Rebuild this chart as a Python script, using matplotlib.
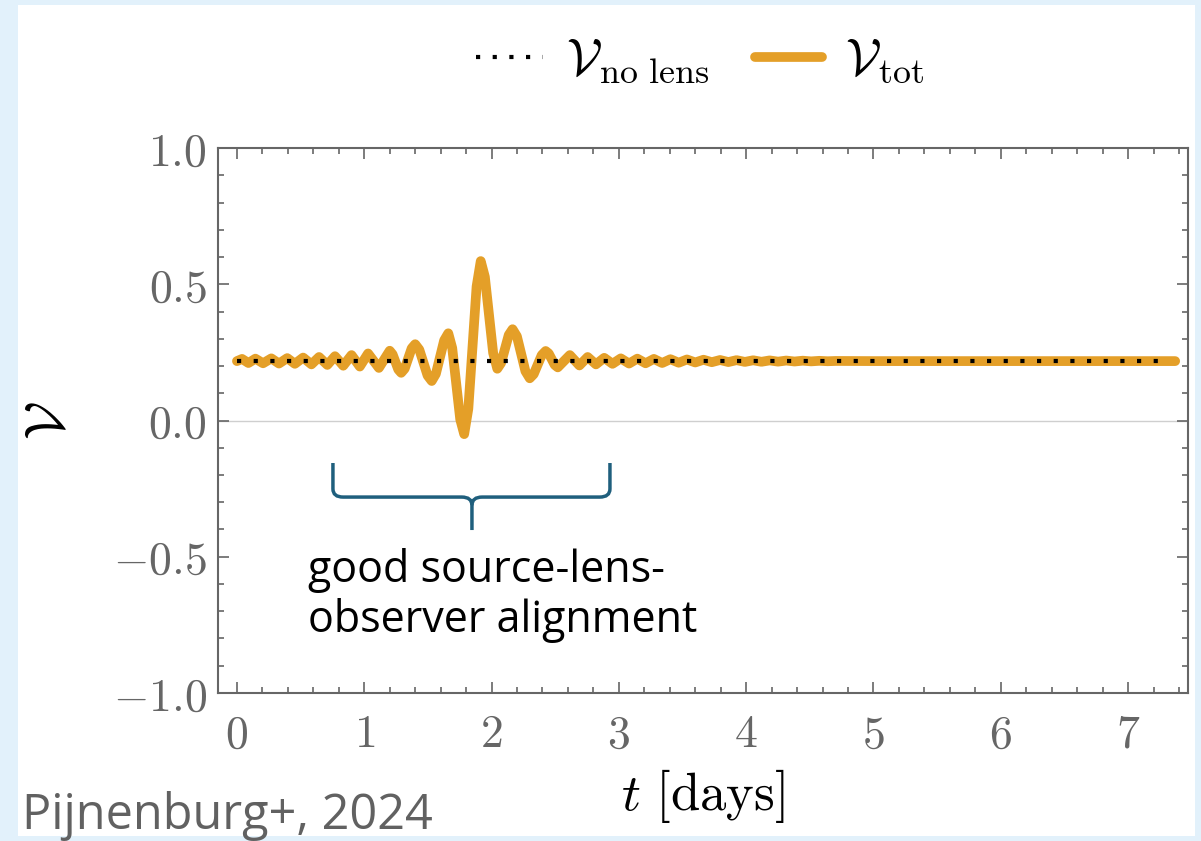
import matplotlib
matplotlib.use("Agg")
import matplotlib.pyplot as plt
from matplotlib.ticker import MultipleLocator, FuncFormatter
from matplotlib.patches import Rectangle, PathPatch
from matplotlib.path import Path

plt.rcParams['mathtext.fontset'] = 'cm'

# ---- data ----
t_tot = [0.00, 0.04, 0.09, 0.145, 0.205, 0.27, 0.33, 0.395, 0.455, 0.52, 0.585,
         0.645, 0.71, 0.77, 0.835, 0.90, 0.965, 1.03, 1.115, 1.20,
         1.2225, 1.245, 1.2675, 1.29, 1.3175, 1.345, 1.3725, 1.40,
         1.4325, 1.465, 1.4975, 1.53, 1.5625, 1.595, 1.6275, 1.66,
         1.691, 1.7225, 1.754, 1.785, 1.8175, 1.85, 1.8825, 1.915,
         1.9475, 1.98, 2.0125, 2.045, 2.075, 2.105, 2.135, 2.165,
         2.199, 2.2325, 2.266, 2.30, 2.331, 2.3625, 2.394, 2.425,
         2.449, 2.4725, 2.496, 2.52, 2.615, 2.69, 2.755, 2.82, 2.885,
         2.95, 3.015, 3.08, 3.145, 3.21, 3.275, 3.34, 3.405, 3.47,
         3.535, 3.60, 3.665, 3.73, 3.795, 3.86, 3.925, 3.99, 4.055,
         4.12, 4.185, 4.25, 4.315, 4.38, 4.445, 4.51, 4.575, 4.64,
         4.705, 5.00, 7.37]
v_tot = [0.218, 0.226, 0.211, 0.227, 0.210, 0.228, 0.209, 0.229, 0.208, 0.231, 0.206,
         0.233, 0.204, 0.236, 0.201, 0.240, 0.198, 0.246, 0.193, 0.256,
         0.243, 0.215, 0.187, 0.175, 0.190, 0.2275, 0.265, 0.280,
         0.260, 0.2125, 0.165, 0.145, 0.171, 0.2325, 0.294, 0.320,
         0.266, 0.135, 0.004, -0.050, 0.043, 0.2675, 0.492, 0.585,
         0.527, 0.3875, 0.248, 0.190, 0.211, 0.2625, 0.314, 0.335,
         0.309, 0.245, 0.181, 0.155, 0.170, 0.205, 0.240, 0.255,
         0.246, 0.225, 0.204, 0.195, 0.240, 0.202, 0.233, 0.206, 0.230,
         0.208, 0.228, 0.209, 0.227, 0.210, 0.226, 0.211, 0.225, 0.212,
         0.224, 0.213, 0.223, 0.214, 0.222, 0.2145, 0.2215, 0.215, 0.221,
         0.2155, 0.2205, 0.216, 0.220, 0.2165, 0.2195, 0.217, 0.219, 0.2175,
         0.2185, 0.218, 0.218]
t_nolens = [0.0, 7.33]
v_nolens = [0.218, 0.218]

label_nolens = r'$\mathcal{V}_{\mathrm{no\ lens}}$'
label_tot = r'$\mathcal{V}_{\mathrm{tot}}$'
annotation = "good source-lens-\nobserver alignment"
credit = "Pijnenburg+, 2024"

ORANGE = '#E49F28'
GRAY = '#666666'
BRACE = '#1F5F7D'

fig = plt.figure(figsize=(12.01, 8.41), dpi=100)
fig.patch.set_facecolor('#E2F1FB')
bg = Rectangle((0.015, 0.006), 0.98, 0.988, transform=fig.transFigure,
               facecolor='white', edgecolor='none', zorder=-10)
fig.add_artist(bg)

ax = fig.add_axes([0.1815, 0.176, 0.8077, 0.648])
ax.set_zorder(1)
ax.set_facecolor('white')
ax.axhline(0, color='#cfcfcf', lw=1.0, zorder=1)
ax.plot(t_tot, v_tot, color=ORANGE, lw=7, solid_joinstyle='round',
        solid_capstyle='round', label=label_tot, zorder=2)
ax.plot(t_nolens, v_nolens, color='black', lw=3, linestyle=(0, (1, 3)),
        label=label_nolens, zorder=3)

ax.set_xlim(-0.149, 7.471)
ax.set_ylim(-1.0, 1.0)
ax.xaxis.set_major_locator(MultipleLocator(1))
ax.xaxis.set_minor_locator(MultipleLocator(0.2))
ax.yaxis.set_major_locator(MultipleLocator(0.5))
ax.yaxis.set_minor_locator(MultipleLocator(0.1))
ax.xaxis.set_major_formatter(FuncFormatter(lambda v, p: r'$%d$' % round(v)))
ax.yaxis.set_major_formatter(FuncFormatter(lambda v, p: r'$%.1f$' % v))
ax.tick_params(which='both', direction='in', top=True, right=True, color=GRAY,
               labelcolor=GRAY, labelsize=33, width=1.2)
ax.tick_params(which='major', length=8)
ax.tick_params(which='minor', length=4)
ax.tick_params(axis='x', pad=14)
ax.tick_params(axis='y', pad=8)
for s in ax.spines.values():
    s.set_color(GRAY)
    s.set_linewidth(1.5)

ax.set_xlabel(r'$t\ [\mathrm{days}]$', fontsize=38, labelpad=7)
ax.set_ylabel(r'$\mathcal{V}$', fontsize=40, labelpad=26)

h, l = ax.get_legend_handles_labels()
ax.legend(h[::-1], l[::-1], loc='center', bbox_to_anchor=(0.497, 1.16), ncol=2,
          frameon=False, fontsize=37, handlelength=1.3, columnspacing=0.9,
          handletextpad=0.45)

# curly brace (annotation)
bx0, bx1, bxc = 0.754, 2.93, 1.846
by0, by1, by2 = -0.156, -0.281, -0.402
r = 0.08
verts = [(bx0, by0), (bx0, by1 + 0.03), (bx0, by1), (bx0 + r, by1),
         (bxc - r, by1), (bxc, by1), (bxc, by1 - 0.03), (bxc, by2)]
codes = [Path.MOVETO, Path.LINETO, Path.CURVE3, Path.CURVE3,
         Path.LINETO, Path.CURVE3, Path.CURVE3, Path.LINETO]
ax.add_patch(PathPatch(Path(verts, codes), fill=False, edgecolor=BRACE, lw=2.5,
                       capstyle='butt', zorder=4))
verts2 = [(bx1, by0), (bx1, by1 + 0.03), (bx1, by1), (bx1 - r, by1),
          (bxc + r, by1), (bxc, by1), (bxc, by1 - 0.03)]
codes2 = [Path.MOVETO, Path.LINETO, Path.CURVE3, Path.CURVE3,
          Path.LINETO, Path.CURVE3, Path.CURVE3]
ax.add_patch(PathPatch(Path(verts2, codes2), fill=False, edgecolor=BRACE, lw=2.5,
                       capstyle='butt', zorder=4))

ax.text(0.558, -0.468, annotation, ha='left', va='top', fontsize=31,
        family='Open Sans', color='black', linespacing=1.15)

fig.text(0.018, 0.014, credit, ha='left', va='baseline', fontsize=35,
         family='Open Sans', color='#616161')

fig.savefig('out.png', dpi=100, facecolor=fig.get_facecolor())
